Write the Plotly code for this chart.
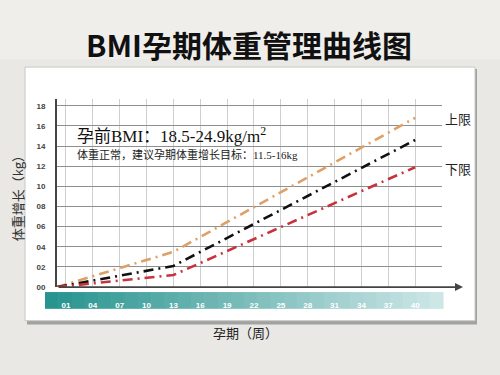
import plotly.graph_objects as go

# ---- data ----
weeks = [0, 13, 40]
upper_gain = [0, 3.5, 16.8]
mid_gain = [0, 2.1, 14.6]
lower_gain = [0, 1.2, 11.9]
x_tick_vals = [1, 4, 7, 10, 13, 16, 19, 22, 25, 28, 31, 34, 37, 40]
x_tick_text = ["01", "04", "07", "10", "13", "16", "19", "22", "25", "28", "31", "34", "37", "40"]
y_tick_vals = [0, 2, 4, 6, 8, 10, 12, 14, 16, 18]
y_tick_text = ["00", "02", "04", "06", "08", "10", "12", "14", "16", "18"]

W, H = 500, 375
def px(x):
    return x / W
def py(y):
    return 1 - y / H

fig = go.Figure()
dash = "10px,5px,2px,5px"
for vals, col in [(upper_gain, "#dea066"), (mid_gain, "#111111"), (lower_gain, "#c8323c")]:
    fig.add_trace(go.Scatter(x=weeks, y=vals, mode="lines",
                             line=dict(color=col, width=2.6, dash=dash),
                             hoverinfo="skip", showlegend=False))

shapes = []
# light top band of the page background
shapes.append(dict(type="rect", xref="paper", yref="paper", x0=0, x1=1, y0=py(60), y1=1,
                   fillcolor="#efeeeb", line=dict(width=0), layer="below"))
# card shadow + card
shapes.append(dict(type="rect", xref="paper", yref="paper", x0=px(27), x1=px(477), y0=py(329), y1=py(70),
                   fillcolor="#a2a2a0", line=dict(width=0), layer="below"))
shapes.append(dict(type="rect", xref="paper", yref="paper", x0=px(25), x1=px(475), y0=py(325), y1=py(68),
                   fillcolor="white", line=dict(color="#c8c8c8", width=1), layer="below"))
# teal gradient bar
n = 30
x0b, x1b = 45, 443
c0 = (40, 148, 143)
c1 = (205, 230, 230)
for i in range(n):
    t = i / (n - 1)
    c = tuple(int(c0[k] + (c1[k] - c0[k]) * t) for k in range(3))
    xa = x0b + (x1b - x0b) * i / n
    xb = x0b + (x1b - x0b) * (i + 1) / n + 0.6
    shapes.append(dict(type="rect", xref="paper", yref="paper", x0=px(xa), x1=px(xb),
                       y0=py(313), y1=py(296), fillcolor="rgb(%d,%d,%d)" % c,
                       line=dict(width=0), layer="below"))

fig.update_layout(
    width=W, height=H,
    margin=dict(l=0, r=0, t=0, b=0),
    paper_bgcolor="#e9e8e4",
    plot_bgcolor="white",
    shapes=shapes,
    xaxis=dict(domain=[px(57), px(442)], range=[0, 43], showgrid=True, dtick=1,
               tick0=0, gridcolor="#cfcfcf", gridwidth=1, zeroline=False, showline=False,
               tickmode="array", tickvals=x_tick_vals, ticktext=x_tick_text,
               ticks="outside", ticklen=10, tickcolor="rgba(0,0,0,0)",
               tickfont=dict(family="Liberation Sans", size=8, color="white", weight="bold"),
               fixedrange=True),
    yaxis=dict(domain=[py(291), py(100)], range=[0, 18.7], tickmode="array",
               tickvals=y_tick_vals, ticktext=y_tick_text, showgrid=True,
               gridcolor="#8f8f8f", gridwidth=1.2, zeroline=False,
               showline=True, linecolor="#444444", linewidth=2,
               ticks="outside", ticklen=8, tickcolor="rgba(0,0,0,0)",
               tickfont=dict(family="Liberation Sans", size=8, color="#444", weight="bold"),
               fixedrange=True),
)

ann = []
ann.append(dict(x=px(463), y=py(291), xref="paper", yref="paper", text="", showarrow=True,
                ax=-406, ay=0, arrowhead=2, arrowsize=1, arrowwidth=1.6, arrowcolor="#444"))
ann.append(dict(x=px(249), y=py(45), xref="paper", yref="paper", xanchor="center", yanchor="middle",
                text="<b>BMI孕期体重管理曲线图</b>", showarrow=False,
                font=dict(family="Noto Sans CJK SC", size=30, color="#111")))
ann.append(dict(x=px(75), y=py(137), xref="paper", yref="paper", xanchor="left", yanchor="middle",
                text="孕前BMI：18.5-24.9kg/m<sup>2</sup>", showarrow=False,
                font=dict(family="Liberation Serif, Noto Sans CJK SC", size=17, color="#111")))
ann.append(dict(x=px(75), y=py(157), xref="paper", yref="paper", xanchor="left", yanchor="middle",
                text="体重正常，建议孕期体重增长目标：11.5-16kg", showarrow=False,
                font=dict(family="Liberation Serif, Noto Sans CJK SC", size=11, color="#222")))
ann.append(dict(x=px(443), y=py(120), xref="paper", yref="paper", xanchor="left", yanchor="middle",
                text="上限", showarrow=False,
                font=dict(family="Noto Sans CJK SC", size=13, color="#222")))
ann.append(dict(x=px(443), y=py(171), xref="paper", yref="paper", xanchor="left", yanchor="middle",
                text="下限", showarrow=False,
                font=dict(family="Noto Sans CJK SC", size=13, color="#222")))
ann.append(dict(x=px(17), y=py(198), xref="paper", yref="paper", xanchor="center", yanchor="middle",
                textangle=-90, text="体重增长（kg）", showarrow=False,
                font=dict(family="Noto Sans CJK SC", size=13, color="#333")))
ann.append(dict(x=px(245), y=py(337), xref="paper", yref="paper", xanchor="center", yanchor="middle",
                text="孕期（周）", showarrow=False,
                font=dict(family="Noto Sans CJK SC", size=13, color="#222")))
fig.update_layout(annotations=ann)

fig.write_html("out.html", config={"displayModeBar": False},
               post_script="document.body.style.margin='0px';document.body.style.overflow='hidden';")
